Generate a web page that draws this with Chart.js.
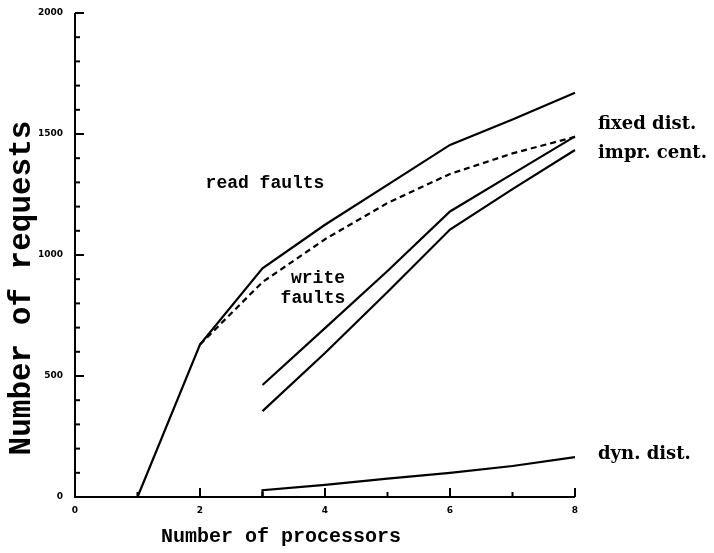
<!DOCTYPE html>
<html>
<head>
<meta charset="utf-8">
<script src="https://cdn.jsdelivr.net/npm/chart.js@4/dist/chart.umd.min.js"></script>
<style>
  html, body { margin: 0; padding: 0; background: #fff; }
  #wrap { width: 714px; height: 553px; }
</style>
</head>
<body>
<div id="wrap"><canvas id="faults-chart"></canvas></div>
<script>
// Request counts against number of processors
const readFixedX = [1, 2, 3, 4, 5, 6, 7, 8];
const readFixed  = [0, 630, 945, 1125, 1290, 1455, 1560, 1670];

const readImprX = [2, 3, 4, 5, 6, 7, 8];
const readImpr  = [630, 888, 1065, 1215, 1335, 1420, 1488];

const writeFixedX = [3, 4, 5, 6, 7, 8];
const writeFixed  = [463, 698, 934, 1180, 1335, 1490];

const writeImprX = [3, 4, 5, 6, 7, 8];
const writeImpr  = [355, 595, 847, 1105, 1272, 1434];

const dynDistX = [3, 3, 4, 5, 6, 7, 8];
const dynDist  = [0, 28, 50, 76, 100, 128, 165];

const xTickLabels = [0, 2, 4, 6, 8];
const yTickLabels = [0, 500, 1000, 1500, 2000];

const pts = (xs, ys) => xs.map((x, i) => ({ x: x, y: ys[i] }));

// Axes drawn by hand so the ticks point inward
const axesPlugin = {
    id: 'axes',
    afterDatasetsDraw(chart) {
        const { ctx, scales: { x, y } } = chart;
        const x0 = x.getPixelForValue(0);
        const y0 = y.getPixelForValue(0);
        ctx.save();
        ctx.strokeStyle = '#000';
        ctx.lineWidth = 2;
        ctx.beginPath();
        ctx.moveTo(x0, y.getPixelForValue(2000));
        ctx.lineTo(x0, y0);
        ctx.lineTo(x.getPixelForValue(8), y0);
        ctx.stroke();

        // x ticks
        for (let v = 1; v <= 8; v++) {
            const px = x.getPixelForValue(v);
            const len = v % 2 === 0 ? 9 : 5;
            ctx.beginPath();
            ctx.moveTo(px, y0);
            ctx.lineTo(px, y0 - len);
            ctx.stroke();
        }
        // y ticks
        for (let v = 100; v <= 2000; v += 100) {
            const py = y.getPixelForValue(v);
            const len = v % 500 === 0 ? 9 : 5;
            ctx.beginPath();
            ctx.moveTo(x0, py);
            ctx.lineTo(x0 + len, py);
            ctx.stroke();
        }

        ctx.fillStyle = '#000';
        ctx.font = 'bold 9px "DejaVu Sans"';
        ctx.textAlign = 'center';
        ctx.textBaseline = 'middle';
        xTickLabels.forEach(v => ctx.fillText(String(v), x.getPixelForValue(v), y0 + 14));
        ctx.textAlign = 'right';
        yTickLabels.forEach(v => ctx.fillText(String(v), x0 - 12, y.getPixelForValue(v)));

        // axis titles
        ctx.font = 'bold 20px "Liberation Mono"';
        ctx.textAlign = 'center';
        ctx.fillText('Number of processors', 281, 537);
        ctx.save();
        ctx.translate(22, 288);
        ctx.rotate(-Math.PI / 2);
        ctx.font = 'bold 31px "Liberation Mono"';
        ctx.fillText('Number of requests', 0, 0);
        ctx.restore();

        // curve annotations
        ctx.font = 'bold 18px "Liberation Mono"';
        ctx.fillText('read faults', 265, 183);
        ctx.fillText('write', 318, 278);
        ctx.fillText('faults', 313, 298);

        ctx.font = 'bold 18px "DejaVu Serif"';
        ctx.textAlign = 'left';
        ctx.fillText('fixed dist.', 598, 124);
        ctx.fillText('impr. cent.', 598, 153);
        ctx.fillText('dyn. dist.', 598, 454);
        ctx.restore();
    }
};

const lineStyle = {
    borderColor: '#000',
    borderWidth: 2.2,
    pointRadius: 0,
    fill: false,
    tension: 0,
    clip: false
};

new Chart(document.getElementById('faults-chart'), {
    type: 'line',
    data: {
        datasets: [
            { label: 'read fixed dist.', data: pts(readFixedX, readFixed), ...lineStyle },
            { label: 'read impr. cent.', data: pts(readImprX, readImpr), ...lineStyle, borderDash: [6, 4] },
            { label: 'write fixed dist.', data: pts(writeFixedX, writeFixed), ...lineStyle },
            { label: 'write impr. cent.', data: pts(writeImprX, writeImpr), ...lineStyle },
            { label: 'dyn. dist.', data: pts(dynDistX, dynDist), ...lineStyle }
        ]
    },
    options: {
        responsive: true,
        maintainAspectRatio: false,
        animation: false,
        layout: { padding: { left: 75, right: 139, top: 13, bottom: 56 } },
        plugins: {
            legend: { display: false },
            tooltip: { enabled: false }
        },
        scales: {
            x: { type: 'linear', min: 0, max: 8, display: false },
            y: { type: 'linear', min: 0, max: 2000, display: false }
        }
    },
    plugins: [axesPlugin]
});
</script>
</body>
</html>
